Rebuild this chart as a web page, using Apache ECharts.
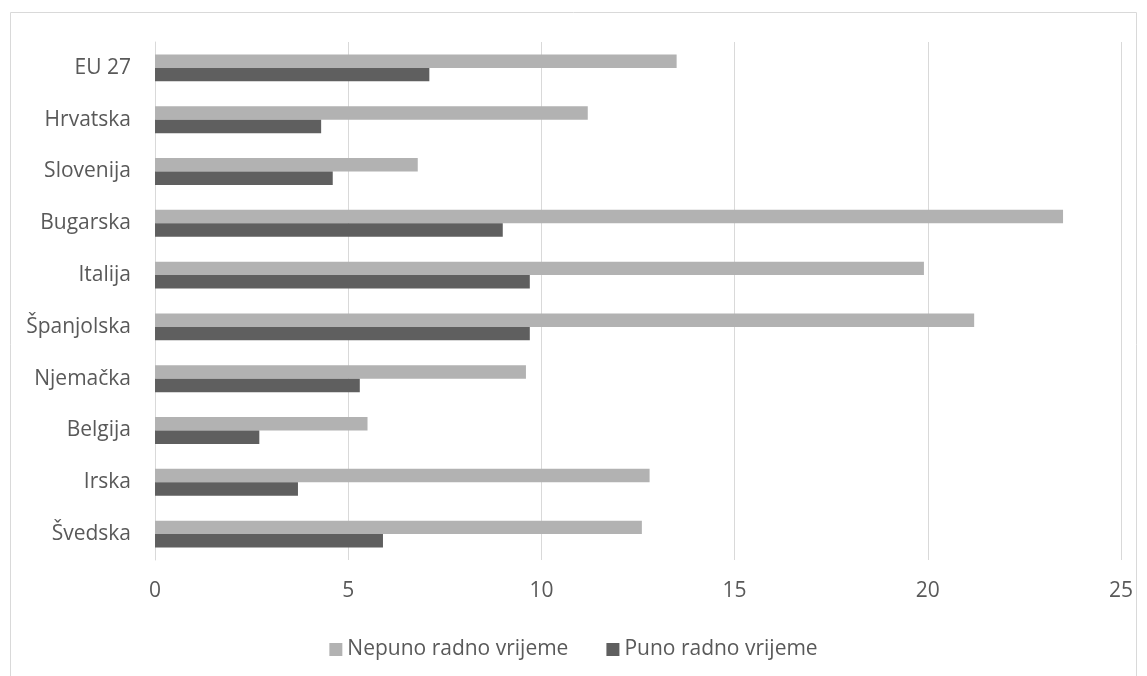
<!DOCTYPE html>
<html>
<head>
<meta charset="utf-8">
<script src="https://cdn.jsdelivr.net/npm/echarts@6/dist/echarts.min.js"></script>
<style>html,body{margin:0;padding:0;background:#fff;}#c{width:1147px;height:676px;}</style>
</head>
<body>
<div id="c"></div>
<script>
const categories = ['EU 27','Hrvatska','Slovenija','Bugarska','Italija','Španjolska','Njemačka','Belgija','Irska','Švedska'];
const nepuno = [13.5, 11.2, 6.8, 23.5, 19.9, 21.2, 9.6, 5.5, 12.8, 12.6];
const puno = [7.1, 4.3, 4.6, 9.0, 9.7, 9.7, 5.3, 2.7, 3.7, 5.9];
const seriesNames = ['Nepuno radno vrijeme', 'Puno radno vrijeme'];
const xTicks = [0, 5, 10, 15, 20, 25];

const chart = echarts.init(document.getElementById('c'));
const font = '"Open Sans", "Liberation Sans", sans-serif';
chart.setOption({
  animation: false,
  textStyle: { fontFamily: font },
  graphic: [{
    type: 'rect', shape: { x: 10.5, y: 12.5, width: 1126, height: 700 },
    style: { fill: 'none', stroke: '#d9d9d9', lineWidth: 1 }, silent: true
  }],
  grid: { left: 155, right: 26, top: 42, bottom: 116, containLabel: false },
  legend: {
    top: 634, left: 'center', itemWidth: 13, itemHeight: 13, itemGap: 38,
    icon: 'rect',
    textStyle: { color: '#595959', fontSize: 21, fontFamily: font },
    data: seriesNames
  },
  xAxis: {
    type: 'value', min: xTicks[0], max: xTicks[xTicks.length - 1], interval: 5,
    axisLine: { show: false }, axisTick: { show: false },
    axisLabel: { color: '#595959', fontSize: 21, margin: 21, fontFamily: font },
    splitLine: { show: true, lineStyle: { color: '#d9d9d9', width: 1 } }
  },
  yAxis: {
    type: 'category', data: categories, inverse: true,
    axisLine: { show: true, lineStyle: { color: '#d9d9d9' } }, axisTick: { show: false },
    axisLabel: { color: '#595959', fontSize: 21, margin: 24, fontFamily: font }
  },
  series: [
    { name: seriesNames[0], type: 'bar', data: nepuno, barGap: '0%', barCategoryGap: '48%',
      itemStyle: { color: '#b2b2b2' } },
    { name: seriesNames[1], type: 'bar', data: puno, barGap: '0%', barCategoryGap: '48%',
      itemStyle: { color: '#5f5f5f' } }
  ]
});
</script>
</body>
</html>
